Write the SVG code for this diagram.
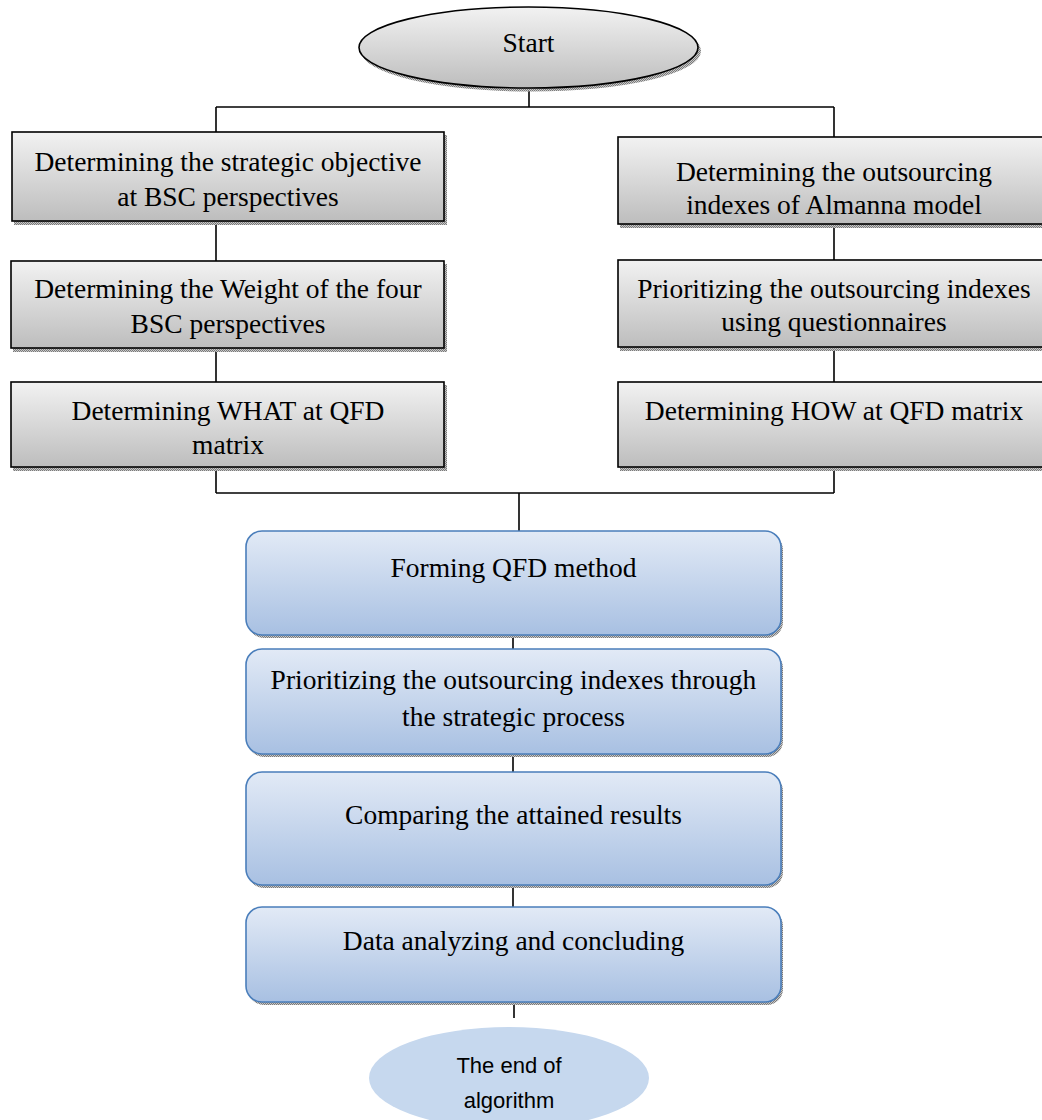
<svg xmlns="http://www.w3.org/2000/svg" width="1042" height="1120" viewBox="0 0 1042 1120">
<defs>
  <linearGradient id="gGray" x1="0" y1="0" x2="0" y2="1">
    <stop offset="0" stop-color="#f2f2f2"/>
    <stop offset="1" stop-color="#bdbdbd"/>
  </linearGradient>
  <linearGradient id="gBlue" x1="0" y1="0" x2="0" y2="1">
    <stop offset="0" stop-color="#e2eaf6"/>
    <stop offset="1" stop-color="#a8c0e2"/>
  </linearGradient>
  <pattern id="hatch" width="2" height="2" patternUnits="userSpaceOnUse">
    <rect width="2" height="2" fill="#c8c8c8"/>
    <rect width="1" height="1" fill="#7a7a7a"/>
    <rect x="1" y="1" width="1" height="1" fill="#7a7a7a"/>
  </pattern>
</defs>
<style>
  .gbox { fill: url(#gGray); stroke: #000; stroke-width: 1.6; }
  .bbox { fill: url(#gBlue); stroke: #4a7ebb; stroke-width: 1.6; }
  .shadow { fill: url(#hatch); }
  .t { font-family: "Liberation Serif", "Times New Roman", serif; font-size: 27.5px; fill: #000; text-anchor: middle; }
  .te { font-family: "Liberation Sans", Arial, sans-serif; font-size: 22px; fill: #000; text-anchor: middle; }
  .c { stroke: #000; stroke-width: 1.6; fill: none; }
</style>
<rect width="1042" height="1120" fill="#fff"/>

<g id="connectors">
  <line class="c" x1="529" y1="88" x2="529" y2="107"/>
  <line class="c" x1="216" y1="107" x2="834" y2="107"/>
  <line class="c" x1="216" y1="107" x2="216" y2="132"/>
  <line class="c" x1="834" y1="107" x2="834" y2="137"/>
  <line class="c" x1="216" y1="221" x2="216" y2="261"/>
  <line class="c" x1="216" y1="348" x2="216" y2="382"/>
  <line class="c" x1="216" y1="467" x2="216" y2="493"/>
  <line class="c" x1="834" y1="224" x2="834" y2="260"/>
  <line class="c" x1="834" y1="347" x2="834" y2="382"/>
  <line class="c" x1="834" y1="467" x2="834" y2="493"/>
  <line class="c" x1="216" y1="493" x2="834" y2="493"/>
  <line class="c" x1="519" y1="493" x2="519" y2="531"/>
  <line class="c" x1="513" y1="635" x2="513" y2="649"/>
  <line class="c" x1="513" y1="754" x2="513" y2="772"/>
  <line class="c" x1="513" y1="885" x2="513" y2="907"/>
  <line class="c" x1="514" y1="1002" x2="514" y2="1018"/>
</g>

<g id="start">
  <ellipse class="shadow" cx="531" cy="51" rx="170" ry="40.5"/>
  <ellipse class="gbox" cx="528.5" cy="47.5" rx="169.5" ry="40.5"/>
  <text class="t" x="528.5" y="52">Start</text>
</g>

<g id="n-strategic-objective">
  <rect class="shadow" x="14" y="135" width="433" height="90"/>
  <rect class="gbox" x="12" y="132" width="432" height="89"/>
  <text class="t" x="228" y="171">Determining the strategic objective</text>
  <text class="t" x="228" y="206">at BSC perspectives</text>
</g>

<g id="n-weight">
  <rect class="shadow" x="13" y="264" width="434" height="88"/>
  <rect class="gbox" x="11" y="261" width="433" height="87"/>
  <text class="t" x="228" y="298">Determining the Weight of the four</text>
  <text class="t" x="228" y="333">BSC perspectives</text>
</g>

<g id="n-what">
  <rect class="shadow" x="13" y="385" width="434" height="86"/>
  <rect class="gbox" x="11" y="382" width="433" height="85"/>
  <text class="t" x="228" y="420">Determining WHAT at QFD</text>
  <text class="t" x="228" y="454">matrix</text>
</g>

<g id="n-outsourcing-indexes">
  <rect class="shadow" x="620" y="140" width="434" height="88"/>
  <rect class="gbox" x="618" y="137" width="434" height="87"/>
  <text class="t" x="834" y="181">Determining the outsourcing</text>
  <text class="t" x="834" y="214">indexes of Almanna model</text>
</g>

<g id="n-prioritizing-questionnaires">
  <rect class="shadow" x="620" y="263" width="434" height="88"/>
  <rect class="gbox" x="618" y="260" width="434" height="87"/>
  <text class="t" x="834" y="298">Prioritizing the outsourcing indexes</text>
  <text class="t" x="834" y="331">using questionnaires</text>
</g>

<g id="n-how">
  <rect class="shadow" x="620" y="385" width="434" height="86"/>
  <rect class="gbox" x="618" y="382" width="434" height="85"/>
  <text class="t" x="834" y="420">Determining HOW at QFD matrix</text>
</g>

<g id="n-forming-qfd">
  <rect class="shadow" x="248" y="534" width="535" height="104" rx="16"/>
  <rect class="bbox" x="246" y="531" width="535" height="104" rx="16"/>
  <text class="t" x="513.5" y="577">Forming QFD method</text>
</g>

<g id="n-prioritizing-strategic">
  <rect class="shadow" x="248" y="652" width="535" height="105" rx="16"/>
  <rect class="bbox" x="246" y="649" width="535" height="105" rx="16"/>
  <text class="t" x="513.5" y="689">Prioritizing the outsourcing indexes through</text>
  <text class="t" x="513.5" y="726">the strategic process</text>
</g>

<g id="n-comparing">
  <rect class="shadow" x="248" y="775" width="535" height="113" rx="16"/>
  <rect class="bbox" x="246" y="772" width="535" height="113" rx="16"/>
  <text class="t" x="513.5" y="824">Comparing the attained results</text>
</g>

<g id="n-data-analyzing">
  <rect class="shadow" x="248" y="910" width="535" height="95" rx="16"/>
  <rect class="bbox" x="246" y="907" width="535" height="95" rx="16"/>
  <text class="t" x="513.5" y="950">Data analyzing and concluding</text>
</g>

<g id="end">
  <ellipse cx="509" cy="1078" rx="140" ry="51" fill="#c6d8ee"/>
  <text class="te" x="509" y="1073">The end of</text>
  <text class="te" x="509" y="1108">algorithm</text>
</g>
</svg>
